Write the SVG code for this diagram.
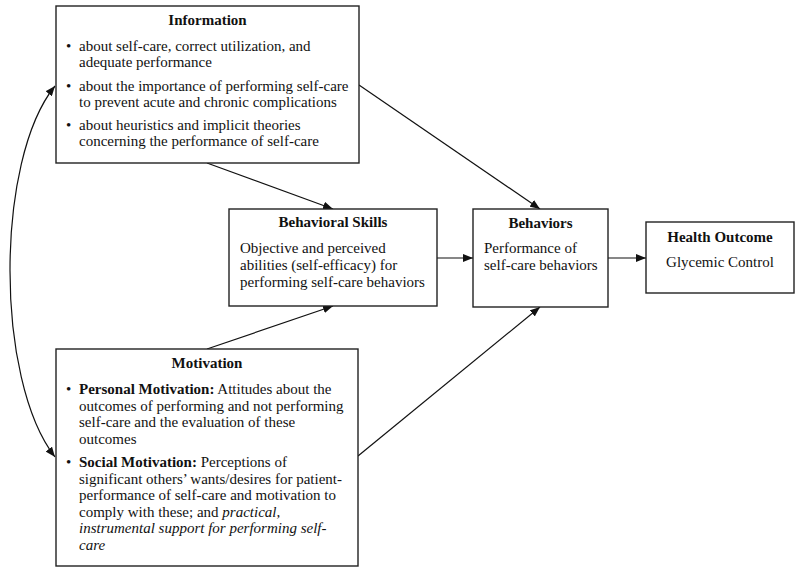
<svg xmlns="http://www.w3.org/2000/svg" width="800" height="573" viewBox="0 0 800 573">
<defs>
<style>
.box{fill:#fff;stroke:#222;stroke-width:1.4}
text{font-family:"Liberation Serif","Times New Roman",serif;font-size:15px;fill:#111}
.t{font-weight:bold;text-anchor:middle}
.b{font-weight:bold}
.i{font-style:italic}
.c{fill:none;stroke:#111;stroke-width:1.2}
</style>
<marker id="ah" viewBox="0 0 10 8" refX="10" refY="4" markerWidth="10" markerHeight="8" markerUnits="userSpaceOnUse" orient="auto-start-reverse">
<path d="M0,0 L10,4 L0,8 Z" fill="#111"/>
</marker>
</defs>
<rect width="800" height="573" fill="#fff"/>
<g id="connectors">
<line class="c" x1="207" y1="163" x2="333" y2="209" marker-end="url(#ah)"/>
<line class="c" x1="359" y1="85" x2="540" y2="209" marker-end="url(#ah)"/>
<line class="c" x1="207" y1="349" x2="333" y2="306" marker-end="url(#ah)"/>
<line class="c" x1="358" y1="456" x2="540" y2="307" marker-end="url(#ah)"/>
<line class="c" x1="437" y1="258" x2="473" y2="258" marker-end="url(#ah)"/>
<line class="c" x1="608" y1="258" x2="646" y2="258" marker-end="url(#ah)"/>
<path class="c" d="M55,86 C-5,160 -5,380 55,457" marker-start="url(#ah)" marker-end="url(#ah)"/>
</g>
<g id="information">
<rect class="box" x="56" y="6" width="303" height="157"/>
<text class="t" x="207.5" y="25">Information</text>
<text x="66" y="51">•</text><text x="79" y="51">about self-care, correct utilization, and</text>
<text x="79" y="67">adequate performance</text>
<text x="66" y="91">•</text><text x="79" y="91">about the importance of performing self-care</text>
<text x="79" y="107">to prevent acute and chronic complications</text>
<text x="66" y="130">•</text><text x="79" y="130">about heuristics and implicit theories</text>
<text x="79" y="146">concerning the performance of self-care</text>
</g>
<g id="behavioral-skills">
<rect class="box" x="229" y="209" width="208" height="97"/>
<text class="t" x="333" y="227">Behavioral Skills</text>
<text x="240" y="253">Objective and perceived</text>
<text x="240" y="270">abilities (self-efficacy) for</text>
<text x="240" y="287">performing self-care behaviors</text>
</g>
<g id="behaviors">
<rect class="box" x="473" y="209" width="135" height="98"/>
<text class="t" x="540.5" y="228">Behaviors</text>
<text x="484" y="253">Performance of</text>
<text x="484" y="270">self-care behaviors</text>
</g>
<g id="health-outcome">
<rect class="box" x="646" y="222" width="148" height="71"/>
<text class="t" x="720" y="242">Health Outcome</text>
<text x="720" y="267" text-anchor="middle">Glycemic Control</text>
</g>
<g id="motivation">
<rect class="box" x="56" y="349" width="302" height="217"/>
<text class="t" x="207" y="368">Motivation</text>
<text x="66" y="394">•</text><text x="79" y="394"><tspan class="b">Personal Motivation:</tspan> Attitudes about the</text>
<text x="79" y="411">outcomes of performing and not performing</text>
<text x="79" y="427">self-care and the evaluation of these</text>
<text x="79" y="444">outcomes</text>
<text x="66" y="467">•</text><text x="79" y="467"><tspan class="b">Social Motivation:</tspan> Perceptions of</text>
<text x="79" y="484">significant others’ wants/desires for patient-</text>
<text x="79" y="500">performance of self-care and motivation to</text>
<text x="79" y="517">comply with these; and <tspan class="i">practical,</tspan></text>
<text x="79" y="533" class="i">instrumental support for performing self-</text>
<text x="79" y="550" class="i">care</text>
</g>
</svg>
